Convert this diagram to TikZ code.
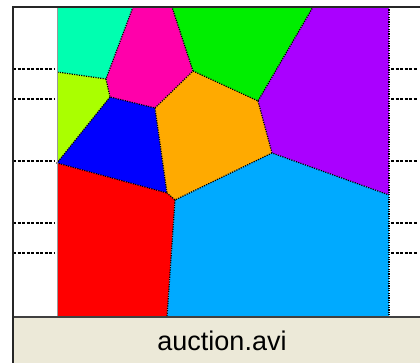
\documentclass[tikz,border=0pt]{standalone}
\usepackage{fontspec}
\setsansfont{Liberation Sans}
\usetikzlibrary{calc}
\definecolor{vteal}{HTML}{00FFB0}
\definecolor{vmagenta}{HTML}{FF00AA}
\definecolor{vlime}{HTML}{AAFF00}
\definecolor{vblue}{HTML}{0000FF}
\definecolor{vorange}{HTML}{FFAA00}
\definecolor{vgreen}{HTML}{00EE00}
\definecolor{vpurple}{HTML}{AA00FF}
\definecolor{vred}{HTML}{FF0000}
\definecolor{vsky}{HTML}{00AAFF}
\definecolor{vpanel}{HTML}{ECE9D8}
\tikzset{
  vcell/.style={draw=none},
  vedge/.style={dash pattern=on 1.2pt off 1.2pt,line width=1.2pt,black},
  vtick/.style={dash pattern=on 3pt off 1.5pt,line width=1.3pt,black},
  vframe/.style={line width=1.6pt,black!85},
  vcaption/.style={font=\sffamily\fontsize{27}{30}\selectfont,inner sep=0pt}
}

\begin{document}
\begin{tikzpicture}[x=1pt,y=-1pt]
  \useasboundingbox (0,0) rectangle (420,363);
  \fill[white] (0,0) rectangle (420,363);
  % vertices of the cells
  \coordinate (tA) at (57,7);
  \coordinate (tB) at (133,7);
  \coordinate (tC) at (172,7);
  \coordinate (tD) at (313,7);
  \coordinate (tE) at (389,7);
  \coordinate (pA) at (57,72);
  \coordinate (pB) at (106,79);
  \coordinate (pC) at (110,97);
  \coordinate (pD) at (155,108);
  \coordinate (pE) at (193,71);
  \coordinate (pF) at (258,101);
  \coordinate (pG) at (272,153);
  \coordinate (pH) at (389,195);
  \coordinate (pI) at (167,193);
  \coordinate (pJ) at (175,200);
  \coordinate (pK) at (57,163);
  \coordinate (bA) at (57,317);
  \coordinate (bB) at (167,317);
  \coordinate (bC) at (389,317);
  % cells
  \fill[vteal] (tA) -- (tB) -- (pB) -- (pA) -- cycle;
  \fill[vmagenta] (tB) -- (tC) -- (pE) -- (pD) -- (pC) -- (pB) -- cycle;
  \fill[vlime] (pA) -- (pB) -- (pC) -- (pK) -- cycle;
  \fill[vblue] (pC) -- (pD) -- (pI) -- (pK) -- cycle;
  \fill[vgreen] (tC) -- (tD) -- (pF) -- (pE) -- cycle;
  \fill[vorange] (pD) -- (pE) -- (pF) -- (pG) -- (pJ) -- (pI) -- cycle;
  \fill[vpurple] (tD) -- (tE) -- (pH) -- (pG) -- (pF) -- cycle;
  \fill[vred] (pK) -- (pI) -- (pJ) -- (bB) -- (bA) -- cycle;
  \fill[vsky] (pJ) -- (pG) -- (pH) -- (bC) -- (bB) -- cycle;
  % cell borders
  \draw[vedge] (tB) -- (pB) -- (pA);
  \draw[vedge] (pB) -- (pC) -- (pD) -- (pE) -- (tC);
  \draw[vedge] (pC) -- (pK) -- (pI) -- (pD);
  \draw[vedge] (pE) -- (pF) -- (tD);
  \draw[vedge] (pF) -- (pG) -- (pH);
  \draw[vedge] (pG) -- (pJ) -- (pI);
  \draw[vedge] (pJ) -- (bB);
  \draw[vedge] (tE) -- (bC);
  \draw[black!40,line width=0.8pt] (tA) -- (bA);
  % ticks
  \foreach \ty in {69,99,161,223,253}{
    \draw[vtick] (13,\ty) -- (55,\ty);
    \draw[vtick] (391,\ty) -- (418,\ty);
  }
  % caption panel
  \fill[vpanel] (13,317) rectangle (420,363);
  \draw[black!75,line width=1.2pt] (13,317) -- (420,317);
  \draw[vframe] (13,363) -- (13,7) -- (420,7);
  \node[vcaption] (cap) at (222,341) {auction.avi};
\end{tikzpicture}
\end{document}
